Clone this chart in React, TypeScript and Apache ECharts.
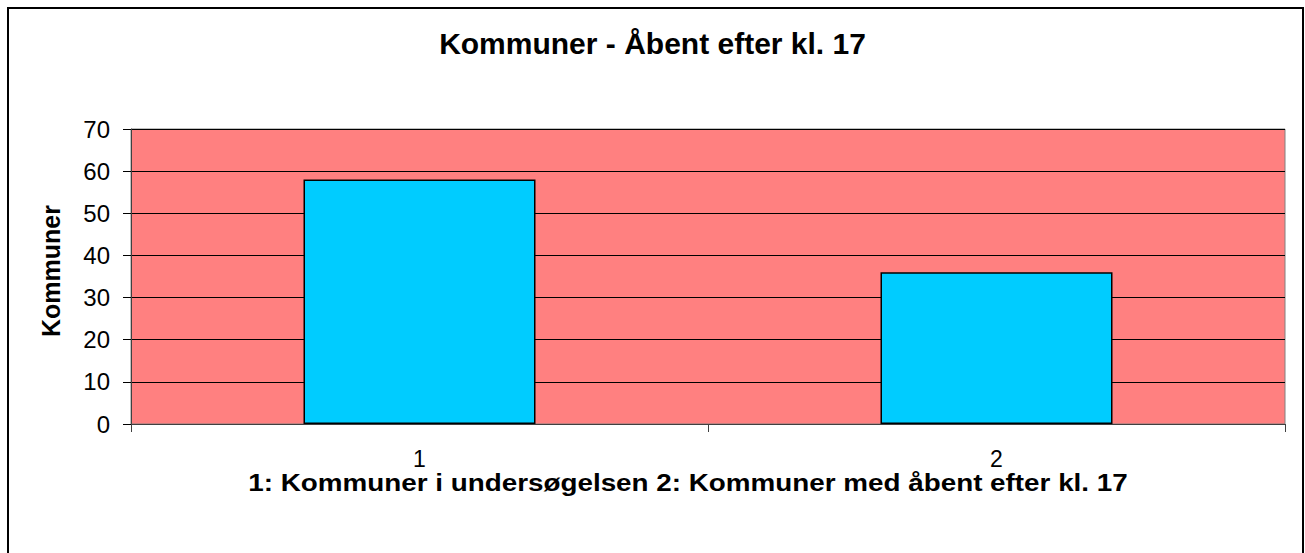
import React, { useEffect, useRef } from "react";
import * as echarts from "echarts";

const categories = ["1", "2"];
const values = [58, 36];
const yTicks = { min: 0, max: 70, interval: 10 };
const titleText = "Kommuner - Åbent efter kl. 17";
const xName = "1: Kommuner i undersøgelsen 2: Kommuner med åbent efter kl. 17";
const yName = "Kommuner";

export default function App() {
  const ref = useRef<HTMLDivElement>(null);
  useEffect(() => {
    document.body.style.margin = "0";
    const chart = echarts.init(ref.current!, null, { renderer: "svg" });
    const font = "Arial, 'Liberation Sans', sans-serif";
    chart.setOption({
      animation: false,
      backgroundColor: "#ffffff",
      textStyle: { fontFamily: font },
      title: {
        text: titleText,
        left: "center",
        top: 23,
        textStyle: { fontSize: 30, fontWeight: "bold", color: "#000", fontFamily: font },
      },
      graphic: [
        {
          type: "rect",
          shape: { x: 8, y: 8, width: 1295, height: 560 },
          style: { fill: "none", stroke: "#000", lineWidth: 2 },
          silent: true,
        },
        {
          type: "text",
          x: 688,
          y: 483,
          scaleX: 1.21,
          style: {
            text: xName,
            fontSize: 23,
            lineHeight: 20,
            fontWeight: "bold",
            fontFamily: font,
            fill: "#000",
            align: "center",
            verticalAlign: "middle",
          },
        },
        {
          type: "text",
          x: 51,
          y: 337,
          rotation: Math.PI / 2,
          style: {
            text: yName,
            fontSize: 25,
            fontWeight: "bold",
            fontFamily: font,
            fill: "#000",
            align: "left",
            verticalAlign: "middle",
          },
        },
      ],
      grid: {
        left: 131,
        top: 129,
        width: 1154,
        height: 295,
        show: true,
        backgroundColor: "#ff8080",
        borderColor: "#808080",
        borderWidth: 1,
      },
      xAxis: {
        type: "category",
        data: categories,
        boundaryGap: true,
        axisLine: { show: true, lineStyle: { color: "#404040", width: 1 } },
        axisTick: { show: true, alignWithLabel: false, length: 8, lineStyle: { color: "#404040" } },
        axisLabel: { fontSize: 23, lineHeight: 18, color: "#000", margin: 26, fontFamily: font },
      },
      yAxis: {
        type: "value",
        min: yTicks.min,
        max: yTicks.max,
        interval: yTicks.interval,
        axisLine: { show: true, lineStyle: { color: "#404040", width: 1 } },
        axisTick: { show: true, length: 8, lineStyle: { color: "#000" } },
        axisLabel: { fontSize: 24, color: "#000", margin: 21, fontFamily: font },
        splitLine: { show: true, lineStyle: { color: "#000", width: 1 } },
      },
      series: [
        {
          type: "bar",
          data: values,
          barWidth: 232,
          itemStyle: { color: "#00ccff", borderColor: "#000", borderWidth: 1.5 },
        },
      ],
    });
    return () => chart.dispose();
  }, []);
  return <div ref={ref} style={{ width: 1305, height: 553 }} />;
}
